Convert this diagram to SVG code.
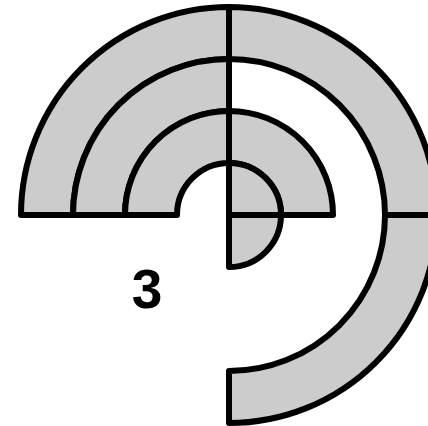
<svg xmlns="http://www.w3.org/2000/svg" width="428" height="426" viewBox="0 0 428 426">
<style>
.p{fill:#cccccc;stroke:#000;stroke-width:6;stroke-linejoin:round}
.t{font-family:"Liberation Sans",Arial,sans-serif;font-weight:bold;font-size:55px;fill:#000}
</style>
<rect width="428" height="426" fill="#fff"/>
<g id="upper-left">
<path class="p" d="M 21 215 A 208 208 0 0 1 229 7 L 229 59 A 156 156 0 0 0 73 215 Z"/>
<path class="p" d="M 73 215 A 156 156 0 0 1 229 59 L 229 111 A 104 104 0 0 0 125 215 Z"/>
<path class="p" d="M 125 215 A 104 104 0 0 1 229 111 L 229 163 A 52 52 0 0 0 177 215 Z"/>
</g>
<g id="upper-right">
<path class="p" d="M 229 7 A 208 208 0 0 1 437 215 L 385 215 A 156 156 0 0 0 229 59 Z"/>
<path class="p" d="M 229 111 A 104 104 0 0 1 333 215 L 281 215 A 52 52 0 0 0 229 163 Z"/>
<path class="p" d="M 229 215 L 229 163 A 52 52 0 0 1 281 215 Z"/>
</g>
<g id="lower-right">
<path class="p" d="M 437 215 A 208 208 0 0 1 229 423 L 229 371 A 156 156 0 0 0 385 215 Z"/>
<path class="p" d="M 229 215 L 281 215 A 52 52 0 0 1 229 267 Z"/>
</g>
<g id="label">
<text class="t" x="147" y="308" text-anchor="middle">3</text>
</g>
</svg>
